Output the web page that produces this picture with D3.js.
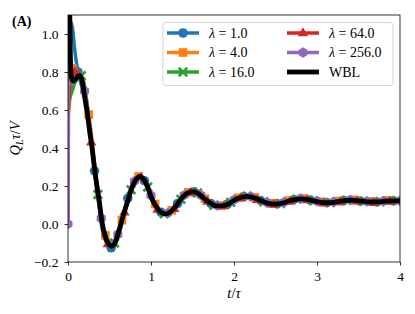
<!DOCTYPE html>
<html>
<head>
<meta charset="utf-8">
<script src="https://cdn.jsdelivr.net/npm/d3@7"></script>
<style>
body { margin: 0; background: #fff; }
text { font-family: "Liberation Serif", "DejaVu Serif", serif; }
</style>
</head>
<body>
<svg id="chart" width="415" height="314"></svg>
<script>
// tick values
var xTicks = [0, 1, 2, 3, 4];
var yTicks = [-0.2, 0.0, 0.2, 0.4, 0.6, 0.8, 1.0];

// series labels, and where along t each series puts its markers
var lambdas = ["1.0", "4.0", "16.0", "64.0", "256.0"];
var markStart = [0.12, 0.05, 0.16, 0.08, 0.0];
var markStep = 0.2;

// [t/tau, Q_L tau / V]
var lam1 = [[0,0],[0.003,0.7],[0.01,1.0],[0.025,1.07],[0.05,1.04],[0.08,0.92],[0.12,0.80],
  [0.22,0.63],[0.32,0.28],[0.42,-0.01],[0.52,-0.125],[0.62,-0.03],[0.72,0.135],[0.82,0.24],[0.92,0.228],
  [1.02,0.125],[1.12,0.062],[1.22,0.06],[1.32,0.107],[1.42,0.158],[1.52,0.169],[1.62,0.143],[1.72,0.108],
  [1.82,0.094],[1.92,0.104],[2.02,0.129],[2.12,0.144],[2.22,0.141],[2.32,0.124],[2.42,0.108],[2.52,0.106],
  [2.62,0.115],[2.72,0.128],[2.82,0.132],[2.92,0.126],[3.02,0.116],[3.12,0.112],[3.22,0.115],[3.32,0.123],
  [3.42,0.125],[3.52,0.121],[3.62,0.117],[3.72,0.116],[3.82,0.12],[3.92,0.122],[4.0,0.121]];

var lam4 = [[0,0],[0.004,0.55],[0.015,0.62],[0.03,0.72],[0.05,0.82],[0.15,0.78],
  [0.25,0.576],[0.35,0.21],[0.45,-0.06],[0.55,-0.11],[0.65,0.02],[0.75,0.165],[0.85,0.25],[0.95,0.21],
  [1.05,0.105],[1.15,0.057],[1.25,0.072],[1.35,0.127],[1.45,0.167],[1.55,0.167],[1.65,0.133],[1.75,0.103],
  [1.85,0.097],[1.95,0.112],[2.05,0.138],[2.15,0.148],[2.25,0.14],[2.35,0.121],[2.45,0.109],[2.55,0.11],
  [2.65,0.123],[2.75,0.133],[2.85,0.134],[2.95,0.126],[3.05,0.117],[3.15,0.115],[3.25,0.121],[3.35,0.127],
  [3.45,0.127],[3.55,0.123],[3.65,0.119],[3.75,0.12],[3.85,0.124],[3.95,0.125],[4.0,0.124]];

var lam16 = [[0,0],[0.004,0.6],[0.02,0.66],[0.05,0.70],[0.08,0.74],[0.12,0.77],[0.16,0.78],
  [0.26,0.52],[0.36,0.155],[0.46,-0.085],[0.56,-0.1],[0.66,0.04],[0.76,0.18],[0.86,0.25],[0.96,0.195],
  [1.06,0.095],[1.16,0.054],[1.26,0.074],[1.36,0.13],[1.46,0.166],[1.56,0.163],[1.66,0.127],[1.76,0.099],
  [1.86,0.096],[1.96,0.114],[2.06,0.137],[2.16,0.146],[2.26,0.137],[2.36,0.117],[2.46,0.106],[2.56,0.108],
  [2.66,0.121],[2.76,0.131],[2.86,0.131],[2.96,0.122],[3.06,0.114],[3.16,0.113],[3.26,0.119],[3.36,0.125],
  [3.46,0.124],[3.56,0.12],[3.66,0.116],[3.76,0.117],[3.86,0.121],[3.96,0.122],[4.0,0.122]];

var lam64 = [[0,0],[0.004,0.62],[0.02,0.72],[0.05,0.77],[0.08,0.80],[0.12,0.80],[0.18,0.73],
  [0.28,0.43],[0.38,0.105],[0.48,-0.105],[0.58,-0.085],[0.68,0.062],[0.78,0.198],[0.88,0.245],[0.98,0.163],
  [1.08,0.076],[1.18,0.052],[1.28,0.08],[1.38,0.138],[1.48,0.166],[1.58,0.153],[1.68,0.118],[1.78,0.093],
  [1.88,0.095],[1.98,0.116],[2.08,0.137],[2.18,0.14],[2.28,0.128],[2.38,0.11],[2.48,0.102],[2.58,0.106],
  [2.68,0.119],[2.78,0.127],[2.88,0.126],[2.98,0.117],[3.08,0.109],[3.18,0.109],[3.28,0.116],[3.38,0.121],
  [3.48,0.12],[3.58,0.115],[3.68,0.112],[3.78,0.114],[3.88,0.118],[3.98,0.119],[4.0,0.119]];

var lam256 = [[0,0],[0.005,0.5],[0.015,0.74],[0.04,0.745],[0.07,0.76],[0.1,0.77],[0.15,0.76],
  [0.2,0.70],[0.3,0.38],[0.4,0.03],[0.5,-0.11],[0.6,-0.055],[0.7,0.095],[0.8,0.225],[0.9,0.24],
  [1.0,0.15],[1.1,0.072],[1.2,0.057],[1.3,0.097],[1.4,0.152],[1.5,0.172],[1.6,0.152],[1.7,0.117],
  [1.8,0.097],[1.9,0.102],[2.0,0.127],[2.1,0.144],[2.2,0.145],[2.3,0.13],[2.4,0.112],[2.5,0.107],
  [2.6,0.114],[2.7,0.128],[2.8,0.134],[2.9,0.13],[3.0,0.12],[3.1,0.114],[3.2,0.116],[3.3,0.124],
  [3.4,0.127],[3.5,0.124],[3.6,0.119],[3.7,0.118],[3.8,0.121],[3.9,0.124],[4.0,0.123]];

var wbl = [[0.008,1.6],[0.015,1.3],[0.025,1.0],[0.03,0.86],[0.04,0.775],[0.06,0.752],[0.09,0.762],
  [0.12,0.778],[0.145,0.78],[0.17,0.752],[0.2,0.67],[0.23,0.59],[0.26,0.49],[0.29,0.4],[0.32,0.29],
  [0.35,0.195],[0.38,0.11],[0.41,0.01],[0.44,-0.05],[0.47,-0.09],[0.5,-0.11],[0.53,-0.117],[0.56,-0.105],
  [0.59,-0.07],[0.62,-0.025],[0.65,0.022],[0.68,0.065],[0.71,0.108],[0.74,0.15],[0.77,0.19],[0.8,0.22],
  [0.83,0.24],[0.86,0.25],[0.89,0.245],[0.92,0.23],[0.95,0.205],[1.0,0.145],[1.05,0.1],[1.1,0.07],
  [1.15,0.055],[1.2,0.055],[1.25,0.07],[1.3,0.095],[1.35,0.125],[1.4,0.15],[1.45,0.165],[1.5,0.17],
  [1.55,0.165],[1.6,0.15],[1.65,0.13],[1.7,0.115],[1.75,0.1],[1.8,0.095],[1.85,0.095],[1.9,0.1],
  [1.95,0.11],[2.0,0.125],[2.05,0.135],[2.1,0.142],[2.15,0.145],[2.2,0.143],[2.25,0.137],[2.3,0.128],
  [2.35,0.118],[2.4,0.11],[2.45,0.106],[2.5,0.105],[2.55,0.107],[2.6,0.112],[2.65,0.12],[2.7,0.126],
  [2.75,0.13],[2.8,0.132],[2.85,0.131],[2.9,0.128],[2.95,0.123],[3.0,0.118],[3.05,0.114],[3.1,0.112],
  [3.15,0.112],[3.2,0.114],[3.25,0.118],[3.3,0.122],[3.35,0.124],[3.4,0.125],[3.45,0.124],[3.5,0.122],
  [3.55,0.12],[3.6,0.117],[3.65,0.116],[3.7,0.116],[3.75,0.117],[3.8,0.119],[3.85,0.121],[3.9,0.122],
  [3.95,0.122],[4.0,0.121]];

var series = [lam1, lam4, lam16, lam64, lam256];
var colors = ["#1f77b4", "#ff7f0e", "#2ca02c", "#d62728", "#9467bd"];
var shapes = ["circle", "square", "xfill", "triangle", "hexagon"];

var margin = {top: 15, right: 15, bottom: 52, left: 68};
var width = 415 - margin.left - margin.right;
var height = 314 - margin.top - margin.bottom;

var svg = d3.select("#chart");
var g = svg.append("g").attr("transform", "translate(" + margin.left + "," + margin.top + ")");

var x = d3.scaleLinear().domain([0, 4]).range([0, width]);
var y = d3.scaleLinear().domain([-0.2, 1.1]).range([height, 0]);

g.append("clipPath").attr("id", "plotclip")
  .append("rect").attr("width", width).attr("height", height);

function markerPath(shape) {
  var p = d3.path();
  if (shape == "circle") {
    p.arc(0, 0, 4.8, 0, 2 * Math.PI);
  } else if (shape == "square") {
    p.rect(-4.3, -4.3, 8.6, 8.6);
  } else if (shape == "triangle") {
    p.moveTo(0, -5.8); p.lineTo(5.2, 3.2); p.lineTo(-5.2, 3.2); p.closePath();
  } else if (shape == "hexagon") {
    for (var k = 0; k < 6; k++) {
      var a = Math.PI / 6 + k * Math.PI / 3;
      if (k == 0) p.moveTo(5.2 * Math.cos(a), 5.2 * Math.sin(a));
      else p.lineTo(5.2 * Math.cos(a), 5.2 * Math.sin(a));
    }
    p.closePath();
  } else {
    // filled "X"
    var r = 5.2, w = 1.9;
    var pts = [[w,0],[r,r-w],[r-w,r],[0,w],[-(r-w),r],[-r,r-w],[-w,0],[-r,-(r-w)],[-(r-w),-r],[0,-w],[r-w,-r],[r,-(r-w)]];
    pts.forEach(function(q, k) { if (k == 0) p.moveTo(q[0], q[1]); else p.lineTo(q[0], q[1]); });
    p.closePath();
  }
  return p.toString();
}

var line = d3.line()
  .x(function(d) { return x(d[0]); })
  .y(function(d) { return y(d[1]); })
  .curve(d3.curveCatmullRom.alpha(0.5));

function isMark(t, i) {
  var k = (t - markStart[i]) / markStep;
  return k > -1e-6 && Math.abs(k - Math.round(k)) < 1e-6;
}

var plot = g.append("g").attr("clip-path", "url(#plotclip)");

series.forEach(function(s, i) {
  plot.append("path")
    .datum(s)
    .attr("d", line)
    .attr("fill", "none")
    .attr("stroke", colors[i])
    .attr("stroke-width", 3.5);
  plot.selectAll(".m" + i)
    .data(s.filter(function(d) { return isMark(d[0], i); }))
    .enter()
    .append("path")
      .attr("class", "m" + i)
      .attr("d", markerPath(shapes[i]))
      .attr("transform", function(d) { return "translate(" + x(d[0]) + "," + y(d[1]) + ")"; })
      .attr("fill", colors[i]);
});

plot.append("path")
  .datum(wbl)
  .attr("d", line)
  .attr("fill", "none")
  .attr("stroke", "#000")
  .attr("stroke-width", 4.8)
  .attr("stroke-linejoin", "round");

// axes
var xAxis = g.append("g").attr("transform", "translate(0," + height + ")")
  .call(d3.axisBottom(x).tickValues(xTicks).tickFormat(d3.format("d")).tickSize(3.5).tickPadding(6));
var yAxis = g.append("g")
  .call(d3.axisLeft(y).tickValues(yTicks).tickFormat(d3.format(".1f")).tickSize(3.5).tickPadding(6));
[xAxis, yAxis].forEach(function(a) {
  a.select(".domain").remove();
  a.selectAll("line").attr("stroke", "#000").attr("stroke-width", 0.8);
  a.selectAll("text").attr("font-size", 13.5).attr("fill", "#000")
    .style("font-family", "'Liberation Serif', serif");
});

g.append("rect")
  .attr("width", width).attr("height", height)
  .attr("fill", "none").attr("stroke", "#000").attr("stroke-width", 0.8);

// legend
var legend = g.append("g");
legend.append("rect")
  .attr("x", 95).attr("y", 7.5).attr("width", 230).attr("height", 63).attr("rx", 3)
  .attr("fill", "#fff").attr("fill-opacity", 0.8)
  .attr("stroke", "#cccccc").attr("stroke-width", 0.8);

var entries = lambdas.map(function(l, i) { return {label: l, color: colors[i], shape: shapes[i]}; });
entries.push({label: "WBL", color: "#000", shape: null});

entries.forEach(function(e, i) {
  var col = Math.floor(i / 3), row = i % 3;
  var lx = 99 + col * 120, ly = 18 + row * 19.5;
  var item = legend.append("g").attr("transform", "translate(" + lx + "," + ly + ")");
  item.append("line")
    .attr("x1", 0).attr("x2", 32)
    .attr("stroke", e.color).attr("stroke-width", e.shape ? 3.5 : 4.8);
  if (e.shape) {
    item.append("path").attr("d", markerPath(e.shape))
      .attr("transform", "translate(16,0)").attr("fill", e.color);
  }
  var t = item.append("text").attr("x", 42).attr("y", 4.6).attr("font-size", 14);
  if (e.shape) {
    t.append("tspan").attr("font-style", "italic").text("λ");
    t.append("tspan").text(" = " + e.label);
  } else {
    t.text("WBL");
  }
});

// axis labels
var xl = svg.append("text").attr("x", margin.left + width / 2).attr("y", 298)
  .attr("text-anchor", "middle").attr("font-size", 14.5);
xl.append("tspan").attr("font-style", "italic").text("t");
xl.append("tspan").text("/");
xl.append("tspan").attr("font-style", "italic").text("τ");

var yl = svg.append("text")
  .attr("transform", "translate(20," + (margin.top + height / 2) + ") rotate(-90)")
  .attr("text-anchor", "middle").attr("font-size", 14.5);
yl.append("tspan").attr("font-style", "italic").text("Q");
yl.append("tspan").attr("font-style", "italic").attr("font-size", 10).attr("dy", 3).text("L");
yl.append("tspan").attr("font-style", "italic").attr("dy", -3).text("τ");
yl.append("tspan").text("/");
yl.append("tspan").attr("font-style", "italic").text("V");

svg.append("text").attr("x", 12).attr("y", 26)
  .attr("font-size", 14).attr("font-weight", "bold").text("(A)");
</script>
</body>
</html>
